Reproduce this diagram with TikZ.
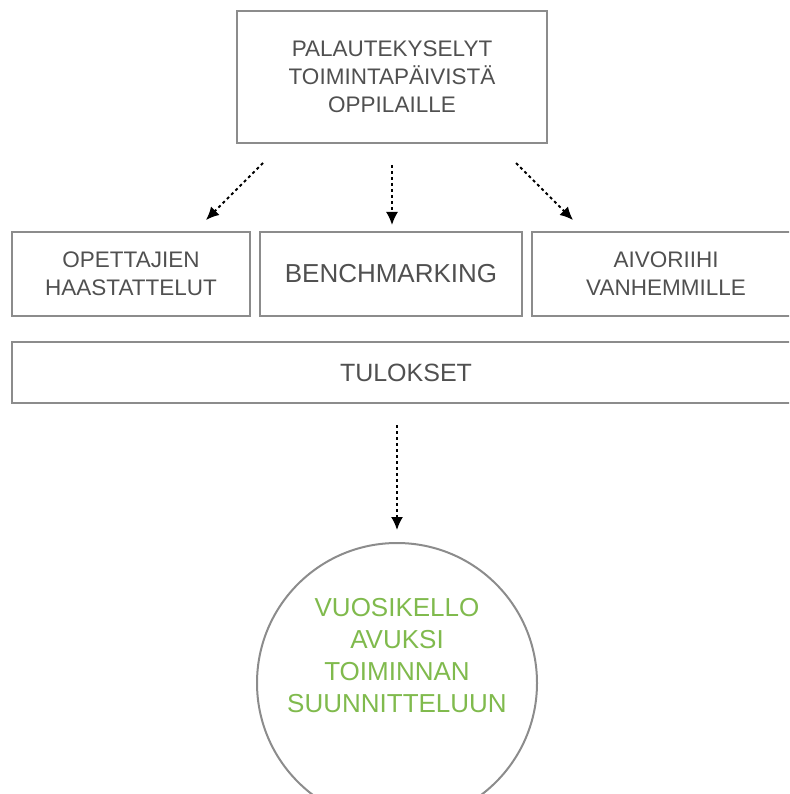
\documentclass[tikz,border=0pt]{standalone}
\usepackage{fontspec}
\setmainfont{Liberation Sans}
\usetikzlibrary{arrows.meta}
\definecolor{vkgray}{RGB}{140,140,140}
\definecolor{vktext}{RGB}{80,80,80}
\definecolor{vkgreen}{RGB}{128,186,77}

\tikzset{
    laatikko/.style={draw=vkgray, line width=2pt, align=center, inner sep=0pt,
        text=vktext, font=\fontsize{22.5}{28}\selectfont},
    nuoli/.style={line width=1.8pt, dash pattern=on 3pt off 3pt,
        -{Latex[length=13pt,width=12pt]}},
}

\begin{document}
\begin{tikzpicture}[x=1pt, y=-1pt]

\useasboundingbox (0,0) rectangle (789,794);
\clip (0,0) rectangle (789,794);

% === Ylin laatikko ===
\node[laatikko, minimum width=310pt, minimum height=132pt] (palaute) at (392,77)
    {PALAUTEKYSELYT\\TOIMINTAPÄIVISTÄ\\OPPILAILLE};

% === Kolmen laatikon rivi ===
\node[laatikko, minimum width=238pt, minimum height=84pt] (opettajat) at (131,274)
    {OPETTAJIEN\\HAASTATTELUT};
\node[laatikko, minimum width=262pt, minimum height=84pt,
      font=\fontsize{26}{30}\selectfont] (bench) at (391,274) {BENCHMARKING};
\node[laatikko, minimum width=268pt, minimum height=84pt] (aivoriihi) at (666,274)
    {AIVORIIHI\\VANHEMMILLE};

% Tulokset
\node[laatikko, minimum width=788pt, minimum height=61pt,
      font=\fontsize{25}{30}\selectfont] (tulokset) at (406,372.5) {TULOKSET};

% === Ympyrä ===
\node[circle, draw=vkgray, line width=2pt, minimum size=280pt, inner sep=0pt] (vuosi) at (397,683) {};
\node[align=center, text=vkgreen, font=\fontsize{26}{32}\selectfont] (vuositeksti) at (397,656)
    {VUOSIKELLO\\AVUKSI\\TOIMINNAN\\SUUNNITTELUUN};

% Nuolten päät
\coordinate (n1a) at (263,163);
\coordinate (n1b) at (206,220);
\coordinate (n2a) at (392,165);
\coordinate (n2b) at (392,225);
\coordinate (n3a) at (516,163);
\coordinate (n3b) at (573,220);
\coordinate (n4a) at (397,425);
\coordinate (n4b) at (397,530);

\draw[nuoli] (n1a) -- (n1b);
\draw[nuoli] (n2a) -- (n2b);
\draw[nuoli] (n3a) -- (n3b);
\draw[nuoli] (n4a) -- (n4b);

\end{tikzpicture}
\end{document}
